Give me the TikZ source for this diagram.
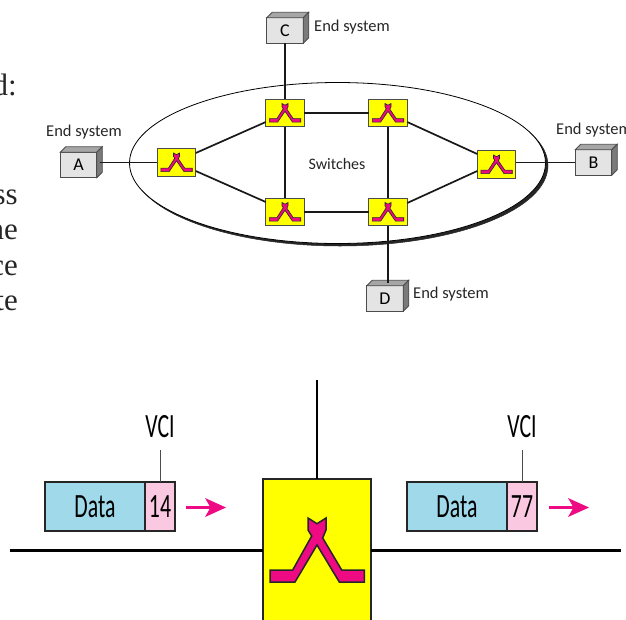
\documentclass[tikz,border=0pt]{standalone}
\usepackage{fontspec}
\setmainfont{Carlito}
\newfontfamily\serifpart{Liberation Serif}
\definecolor{swyellow}{HTML}{FFFF00}
\definecolor{swpink}{HTML}{EE0A82}
\definecolor{datablue}{HTML}{A0D9EA}
\definecolor{vcipink}{HTML}{FBC8E2}
\definecolor{boxface}{HTML}{E4E4E4}
\definecolor{boxtop}{HTML}{A6A6A6}
\definecolor{boxside}{HTML}{7A7A7A}
\newcommand{\narrowtext}[2]{\scalebox{#1}[1]{#2}}
\tikzset{
  x=1pt,y=-1pt,
  link/.style={draw=black!90,line width=1.7pt},
  heavy/.style={draw=black,line width=3pt},
  upline/.style={draw=black,line width=2.1pt},
  swbox/.style={draw=black!70,line width=1pt,fill=swyellow,minimum width=38.5pt,minimum height=27.5pt,inner sep=0pt,outer sep=0pt},
  bigsw/.style={draw=black!85,line width=1.4pt,fill=swyellow,minimum width=108pt,minimum height=160pt,inner sep=0pt,outer sep=0pt},
  sysbox/.style={draw=black!70,line width=.8pt,fill=boxface,minimum width=36.5pt,minimum height=25.5pt,inner sep=0pt,outer sep=0pt,font=\fontsize{18}{18}\selectfont},
  syslabel/.style={font=\fontsize{16.5}{17}\selectfont,inner sep=0pt,text=black!85},
  frag/.style={font=\serifpart\fontsize{31}{31}\selectfont,anchor=base east,inner sep=0pt,text=black!85},
  databox/.style={draw=black!85,line width=1.3pt,fill=datablue,minimum width=100pt,minimum height=49pt,inner sep=0pt,outer sep=0pt,font=\fontsize{34}{34}\selectfont},
  vcibox/.style={draw=black!85,line width=1.3pt,fill=vcipink,minimum width=30pt,minimum height=49pt,inner sep=0pt,outer sep=0pt,font=\fontsize{34}{34}\selectfont},
  vcilabel/.style={font=\fontsize{34}{34}\selectfont,inner sep=0pt},
  vciline/.style={draw=black!70,line width=.8pt},
  pinkarrow/.style={draw=swpink,line width=2.2pt},
  pinkhead/.style={fill=swpink,draw=none},
  pics/swglyph/.style={code={
    \path[draw=black!85,line width=#1,fill=swpink,line join=miter]
      (-47,52)--(-47,64)--(-22,64)--(0,27)--(22.3,64)--(47.3,64)--(47.3,52)--(24.7,52)--(5.7,20)--(9,12)--(9,0)--(0,5.7)--(-9,0)--(-9,12)--(-5.3,18)--(-24.3,52)--cycle;
  }}
}
\newcommand{\sysdepth}[3]{% name, dx, dy
  \path[draw=black!70,line width=.8pt,fill=boxtop] (#1.north west)--++(#2,-#3)--++(36.5,0)--(#1.north east)--cycle;
  \path[draw=black!70,line width=.8pt,fill=boxside] (#1.north east)--++(#2,-#3)--++(0,25.5)--(#1.south east)--cycle;
}
\begin{document}
\begin{tikzpicture}
\clip (0,0) rectangle (626,619);
% cropped body text
\node[frag] (f1) at (17,95) {d:};
\node[frag] (f2) at (18,204) {ss};
\node[frag] (f3) at (18,239) {ne};
\node[frag] (f4) at (18,275) {ce};
\node[frag] (f5) at (18,310) {te};
% cloud
\draw[fill=black!85,draw=black!85,line width=.5pt] (340,165.5) ellipse [x radius=208,y radius=80.5];
\draw[fill=white,draw=black,line width=.8pt] (337.5,163) ellipse [x radius=208,y radius=80.5];
% end systems
\node[sysbox] (A) at (78.5,165) {A};
\sysdepth{A}{5.5}{5.5}
\node[sysbox] (C) at (285,30.5) {C};
\sysdepth{C}{5.5}{5.5}
\node[sysbox] (B) at (593.5,162.5) {B};
\sysdepth{B}{5.5}{5.5}
\node[sysbox] (D) at (385,298.5) {D};
\sysdepth{D}{5.5}{5.5}
\coordinate (Aport) at (100,162.5);
\coordinate (Dport) at (388,283);
% switches (positions)
\node[swbox] (s1) at (176.5,162.5) {};
\node[swbox] (s2) at (285,113) {};
\node[swbox] (s3) at (285,212) {};
\node[swbox] (s4) at (388,113) {};
\node[swbox] (s5) at (388,212) {};
\node[swbox] (s6) at (496.5,164.5) {};
% links
\draw[link] (Aport) -- (s1.west);
\draw[link] (C.south) -- (s2.north);
\draw[link] ([yshift=9.5pt]s1.east) -- ([yshift=-9pt]s2.west);
\draw[link] ([yshift=-8.5pt]s1.east) -- ([yshift=10pt]s3.west);
\draw[link] (s2.south) -- (s3.north);
\draw[link] (s2.east) -- (s4.west);
\draw[link] (s3.east) -- (s5.west);
\draw[link] (s4.south) -- (s5.north);
\draw[link] ([yshift=-9pt]s4.east) -- ([yshift=10.5pt]s6.west);
\draw[link] ([yshift=9pt]s5.east) -- ([yshift=-6.5pt]s6.west);
\draw[link] (s6.east |- B.west) -- (B.west);
\draw[link] (s5.south) -- (Dport);
% glyphs
\foreach \n in {s1,s2,s3,s4,s5,s6}{
  \pic[xscale=.333,yscale=.29] at ([yshift=9.5pt]\n.center) {swglyph=.6pt};
}
% labels
\node[syslabel] (lA) at (84,132.5) {End system};
\node[syslabel,anchor=west] (lC) at (314,27) {End system};
\node[syslabel,anchor=west] (lB) at (556,130.5) {End system};
\node[syslabel,anchor=west] (lD) at (413,294) {End system};
\node[syslabel,font=\fontsize{16}{17}\selectfont] (sw) at (337,164) {Switches};
% lower part
\node[bigsw] (big) at (317,559) {};
\coordinate (upend) at (317,380);
\coordinate (lineL) at (10,550);
\coordinate (lineR) at (621,550);
\draw[upline] (upend) -- (big.north);
\draw[heavy] (lineL) -- (big.west |- lineL);
\draw[heavy] (big.east |- lineR) -- (lineR);
\pic at (317,518) {swglyph=1.5pt};
% left cell
\node[databox] (d1) at (95,506.5) {\narrowtext{.64}{Data}};
\node[vcibox,anchor=west] (v1) at (d1.east) {\narrowtext{.64}{14}};
\node[vcilabel] (vl1) at (160,427) {\narrowtext{.64}{VCI}};
\coordinate (vt1) at (160,450);
\draw[vciline] (vt1) -- (v1.north);
\coordinate (a1s) at (186,507.5);
\coordinate (a1e) at (226,507.5);
\draw[pinkarrow] (a1s) -- ([xshift=-8pt]a1e);
\path[pinkhead] (a1e) -- ++(-21,-9.5) -- ++(5.5,9.5) -- ++(-5.5,9.5) -- cycle;
% right cell
\node[databox] (d2) at (457,506.5) {\narrowtext{.64}{Data}};
\node[vcibox,anchor=west] (v2) at (d2.east) {\narrowtext{.64}{77}};
\node[vcilabel] (vl2) at (522,427) {\narrowtext{.64}{VCI}};
\coordinate (vt2) at (522,450);
\draw[vciline] (vt2) -- (v2.north);
\coordinate (a2s) at (549,507.5);
\coordinate (a2e) at (589,507.5);
\draw[pinkarrow] (a2s) -- ([xshift=-8pt]a2e);
\path[pinkhead] (a2e) -- ++(-21,-9.5) -- ++(5.5,9.5) -- ++(-5.5,9.5) -- cycle;
\end{tikzpicture}
\end{document}
